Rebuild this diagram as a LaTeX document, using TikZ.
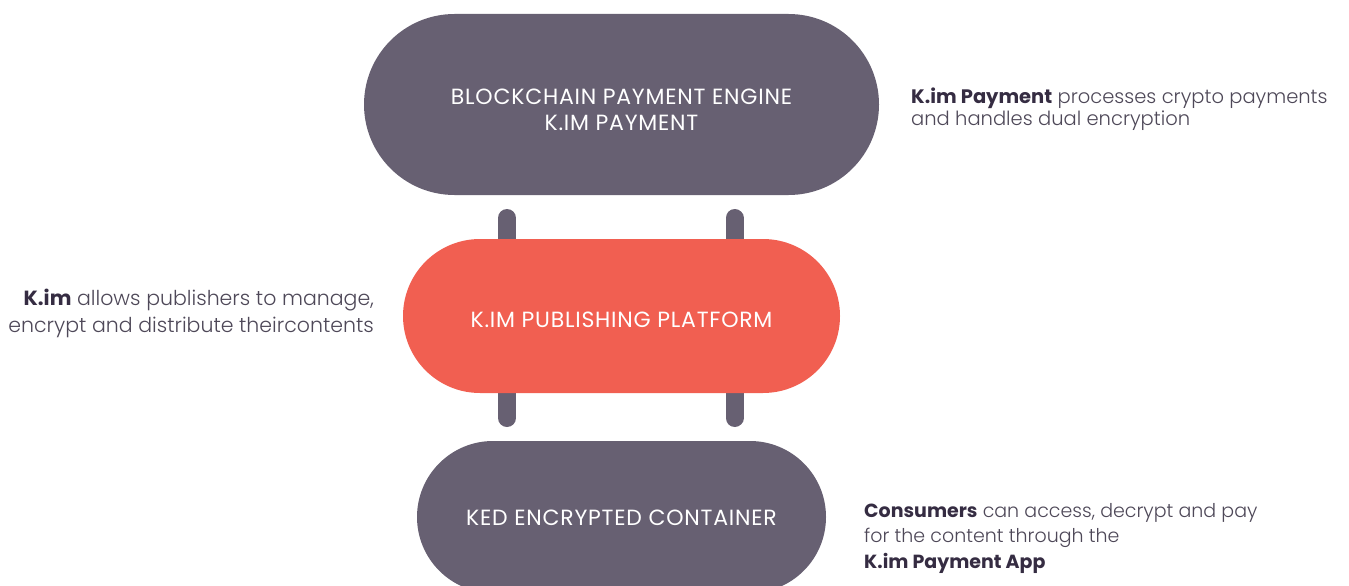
\documentclass[tikz,border=0pt]{standalone}
\usepackage{fontspec}
\setmainfont{Poppins}
\newfontfamily\lightfont{Poppins}[UprightFont=* Light, BoldFont=* Bold]
\definecolor{pilldark}{HTML}{676072}
\definecolor{pillred}{HTML}{F15F51}
\definecolor{txtreg}{HTML}{4E4858}
\definecolor{txtbold}{HTML}{352C42}
\tikzset{
  pill/.style={rectangle, fill=#1, inner sep=0pt},
  bar/.style={draw=pilldark, line width=18pt, line cap=round},
  pilltext/.style={text=white, align=center, inner sep=0pt, font=\fontsize{22}{26}\selectfont\addfontfeatures{LetterSpace=3.5}},
  sidetext/.style={text=txtreg, inner sep=0pt},
}
\newcommand{\bb}[1]{\textbf{\color{txtbold}#1}}
\begin{document}
\begin{tikzpicture}[x=1pt,y=-1pt]
\useasboundingbox (0,0) rectangle (1349,586);
\clip (0,0) rectangle (1349,586);
% bars behind
\coordinate (la) at (507,218);
\coordinate (lb) at (507,418);
\coordinate (ra) at (734.5,218);
\coordinate (rb) at (734.5,418);
\draw[bar] (la) -- (lb);
\draw[bar] (ra) -- (rb);
% pills
\node[pill=pilldark, minimum width=515pt, minimum height=181pt, rounded corners=90.5pt] (top) at (621.5,104.5) {};
\node[pill=pillred, minimum width=437pt, minimum height=154pt, rounded corners=77pt] (mid) at (621.5,316) {};
\node[pill=pilldark, minimum width=409pt, minimum height=152pt, rounded corners=76pt] (bot) at (621.5,517) {};
\node[pilltext] (toptext) at ([yshift=-5pt]top.center) {BLOCKCHAIN PAYMENT ENGINE\\K.IM PAYMENT};
\node[pilltext] (midtext) at ([yshift=-4pt]mid.center) {K.IM PUBLISHING PLATFORM};
\node[pilltext] (bottext) at ([yshift=-1pt]bot.center) {KED ENCRYPTED CONTAINER};
% side texts
\node[sidetext, anchor=north west, align=left, font=\lightfont\fontsize{19.5}{22}\selectfont] (tr) at (911,88) {\bb{K.im Payment} processes crypto payments\\and handles dual encryption};
\node[sidetext, anchor=north east, align=right, font=\lightfont\fontsize{20.5}{27}\selectfont] (ml) at (374,289) {\bb{K.im} allows publishers to manage,\\encrypt and distribute theircontents};
\node[sidetext, anchor=north west, align=left, font=\lightfont\fontsize{19}{25.5}\selectfont] (br) at (864,503) {\bb{Consumers} can access, decrypt and pay\\for the content through the\\\bb{K.im Payment App}};
\end{tikzpicture}
\end{document}
